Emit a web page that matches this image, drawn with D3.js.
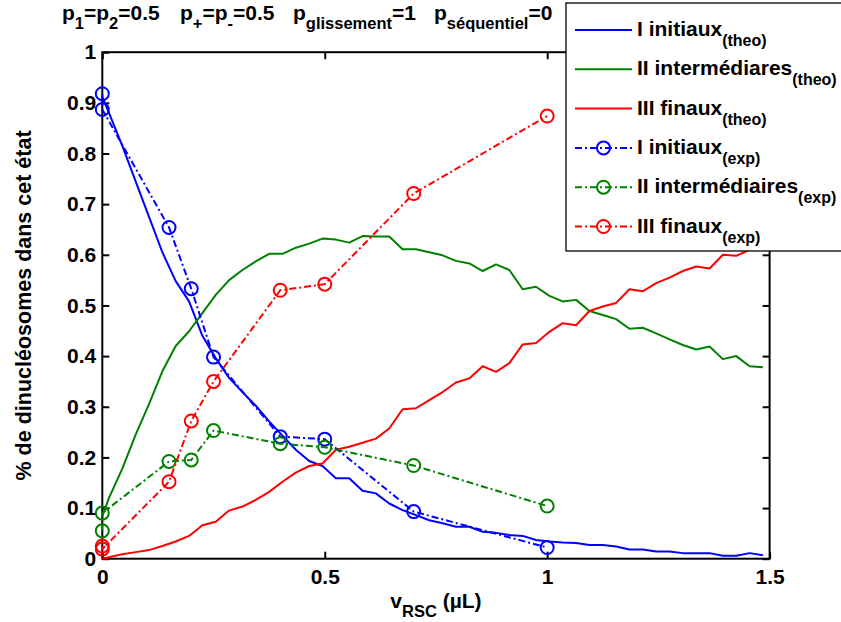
<!DOCTYPE html>
<html><head><meta charset="utf-8">
<script src="https://cdn.jsdelivr.net/npm/d3@7"></script>
<style>
html,body{margin:0;padding:0;background:#fff;}
svg{display:block;font-family:"Liberation Sans",Arial,Helvetica,sans-serif;font-weight:bold;}
</style></head>
<body>
<svg id="chart" width="841" height="622"></svg>
<script>
// ---------- data ----------
const xTheo = [0, 0.015, 0.045, 0.075, 0.105, 0.135, 0.165, 0.195, 0.225, 0.255, 0.285, 0.315, 0.345, 0.375, 0.405, 0.435, 0.465, 0.495, 0.525, 0.555, 0.585, 0.615, 0.645, 0.675, 0.705, 0.735, 0.765, 0.795, 0.825, 0.855, 0.885, 0.915, 0.945, 0.975, 1.005, 1.035, 1.065, 1.095, 1.125, 1.155, 1.185, 1.215, 1.245, 1.275, 1.305, 1.335, 1.365, 1.395, 1.425, 1.455, 1.485];
const initiauxTheo = [0.912,0.88,0.815,0.745,0.675,0.605,0.548,0.508,0.44,0.396,
  0.357,0.329,0.302,0.271,0.243,0.215,0.193,0.183,0.159,0.159,
  0.134,0.129,0.109,0.096,0.086,0.076,0.070,0.063,0.063,0.053,
  0.051,0.047,0.045,0.037,0.034,0.032,0.031,0.027,0.027,0.024,
  0.018,0.018,0.014,0.014,0.011,0.011,0.011,0.006,0.006,0.011,0.007];
const intermediairesTheo = [0.083,0.12,0.178,0.245,0.305,0.37,0.42,0.449,0.485,0.521,
  0.550,0.570,0.587,0.602,0.602,0.614,0.622,0.632,0.630,0.624,
  0.637,0.636,0.636,0.611,0.611,0.605,0.599,0.588,0.583,0.568,
  0.581,0.570,0.532,0.537,0.519,0.508,0.511,0.489,0.481,0.473,
  0.454,0.456,0.445,0.433,0.422,0.413,0.419,0.394,0.400,0.380,0.378];
const finauxTheo = [0,0.003,0.009,0.013,0.017,0.025,0.034,0.045,0.066,0.073,
  0.095,0.103,0.116,0.132,0.152,0.170,0.183,0.188,0.215,0.221,
  0.229,0.237,0.257,0.295,0.297,0.313,0.329,0.348,0.356,0.380,
  0.369,0.386,0.423,0.426,0.448,0.465,0.461,0.489,0.498,0.505,
  0.532,0.528,0.544,0.555,0.568,0.577,0.573,0.600,0.598,0.610,0.615];

const xExp = [0, 0, 0.15, 0.2, 0.25, 0.4, 0.5, 0.7, 1.0];
const initiauxExp = [0.918, 0.887, 0.654, 0.533, 0.398, 0.241, 0.236, 0.093, 0.022];
const intermediairesExp = [0.055, 0.090, 0.192, 0.195, 0.253, 0.227, 0.220, 0.184, 0.104];
const finauxExp = [0.025, 0.019, 0.152, 0.272, 0.350, 0.530, 0.542, 0.721, 0.874];

const xTicks = [0, 0.5, 1, 1.5];
const xTickLabels = ["0", "0.5", "1", "1.5"];
const yTicks = [0, 0.1, 0.2, 0.3, 0.4, 0.5, 0.6, 0.7, 0.8, 0.9, 1];
const yTickLabels = ["0", "0.1", "0.2", "0.3", "0.4", "0.5", "0.6", "0.7", "0.8", "0.9", "1"];

const seriesNames = ["I initiaux", "II intermédiares", "III finaux", "I initiaux", "II intermédiaires", "III finaux"];
const seriesSubs = ["(theo)", "(theo)", "(theo)", "(exp)", "(exp)", "(exp)"];
const colors = ["#0000ff", "#008000", "#ff0000"];

// ---------- layout ----------
const svg = d3.select("#chart");
const L = 102.3, R = 769.6, T = 52.2, B = 558.7;
const x = d3.scaleLinear().domain([0, 1.5]).range([L, R]);
const y = d3.scaleLinear().domain([0, 1]).range([B, T]);
const dashDot = "7,3,2,3";

// ---------- axes ----------
const axG = svg.append("g");
const styleAxis = g => {
  g.select(".domain").remove();
  g.selectAll(".tick line").attr("stroke", "#000").attr("stroke-width", 2);
  g.selectAll(".tick text").attr("fill", "#000").style("font-size", "21px")
    .style("font-weight", "bold").style("font-family", '"Liberation Sans",Arial,sans-serif');
};
axG.append("g").attr("transform", `translate(0,${B})`)
  .call(d3.axisBottom(x).tickValues(xTicks).tickFormat((d, i) => xTickLabels[i]).tickSize(-7).tickPadding(10))
  .call(styleAxis);
axG.append("g").attr("transform", `translate(0,${T})`)
  .call(d3.axisTop(x).tickValues(xTicks).tickFormat("").tickSize(-7))
  .call(styleAxis);
axG.append("g").attr("transform", `translate(${L},0)`)
  .call(d3.axisLeft(y).tickValues(yTicks).tickFormat((d, i) => yTickLabels[i]).tickSize(-7).tickPadding(6))
  .call(styleAxis);
axG.append("g").attr("transform", `translate(${R},0)`)
  .call(d3.axisRight(y).tickValues(yTicks).tickFormat("").tickSize(-7))
  .call(styleAxis);
axG.append("rect").attr("x", L).attr("y", T).attr("width", R - L).attr("height", B - T)
  .attr("fill", "none").attr("stroke", "#000").attr("stroke-width", 2);

// ---------- data marks ----------
const line = d3.line().x(d => x(d[0])).y(d => y(d[1]));
const theo = [initiauxTheo, intermediairesTheo, finauxTheo];
const exp = [initiauxExp, intermediairesExp, finauxExp];
const dataG = svg.append("g");
theo.forEach((vals, i) => {
  dataG.append("path").datum(xTheo.map((xv, j) => [xv, vals[j]]))
    .attr("d", line).attr("fill", "none").attr("stroke", colors[i]).attr("stroke-width", 2)
    .attr("stroke-linejoin", "round");
});
exp.forEach((vals, i) => {
  const pts = xExp.map((xv, j) => [xv, vals[j]]);
  dataG.append("path").datum(pts).attr("d", line).attr("fill", "none")
    .attr("stroke", colors[i]).attr("stroke-width", 2).attr("stroke-dasharray", dashDot);
  dataG.selectAll(null).data(pts).enter().append("circle")
    .attr("cx", d => x(d[0])).attr("cy", d => y(d[1])).attr("r", 6.5)
    .attr("fill", "none").attr("stroke", colors[i]).attr("stroke-width", 2);
});

// ---------- title ----------
const title = svg.append("g").style("font-size", "21px");
const titleParts = [
  [62, [["p", 0], ["1", 1], ["=p", 0], ["2", 1], ["=0.5", 0]]],
  [180, [["p", 0], ["+", 1], ["=p", 0], ["-", 1], ["=0.5", 0]]],
  [293, [["p", 0], ["glissement", 1], ["=1", 0]]],
  [434, [["p", 0], ["séquentiel", 1], ["=0", 0]]]
];
titleParts.forEach(([tx, parts]) => {
  const t = title.append("text").attr("x", tx).attr("y", 19.5).attr("fill", "#000");
  let sub = false;
  parts.forEach(([s, isSub]) => {
    const ts = t.append("tspan").text(s);
    if (isSub && !sub) { ts.attr("dy", 9.5).style("font-size", "16.5px"); sub = true; }
    else if (isSub && sub) { ts.style("font-size", "16.5px"); }
    else if (!isSub && sub) { ts.attr("dy", -9.5); sub = false; }
  });
});

// ---------- axis labels ----------
const xl = svg.append("text").attr("x", (L + R) / 2).attr("y", 608).attr("text-anchor", "middle")
  .style("font-size", "21px").attr("fill", "#000");
xl.append("tspan").text("v");
xl.append("tspan").text("RSC").attr("dy", 9).style("font-size", "16.5px");
xl.append("tspan").text(" (µL)").attr("dy", -9);

svg.append("text").attr("transform", `translate(31,${(T + B) / 2}) rotate(-90)`)
  .attr("text-anchor", "middle").style("font-size", "21.5px").attr("fill", "#000")
  .text("% de dinucléosomes dans cet état");

// ---------- legend ----------
const lg = svg.append("g");
lg.append("rect").attr("x", 566).attr("y", 3).attr("width", 290).attr("height", 248)
  .attr("fill", "#fff").attr("stroke", "#000").attr("stroke-width", 1.3);
seriesNames.forEach((name, i) => {
  const cy = 30 + i * 39.3;
  const c = colors[i % 3];
  const isExp = i >= 3;
  lg.append("line").attr("x1", 575).attr("x2", 632).attr("y1", cy).attr("y2", cy)
    .attr("stroke", c).attr("stroke-width", 2).attr("stroke-dasharray", isExp ? dashDot : null);
  if (isExp) {
    lg.append("circle").attr("cx", 603.5).attr("cy", cy).attr("r", 6.5)
      .attr("fill", "none").attr("stroke", c).attr("stroke-width", 2);
  }
  const t = lg.append("text").attr("x", 637).attr("y", cy + 6).style("font-size", "21px").attr("fill", "#000");
  t.append("tspan").text(name);
  t.append("tspan").text(seriesSubs[i]).attr("dy", 10).style("font-size", "16px");
});
</script>
</body></html>
